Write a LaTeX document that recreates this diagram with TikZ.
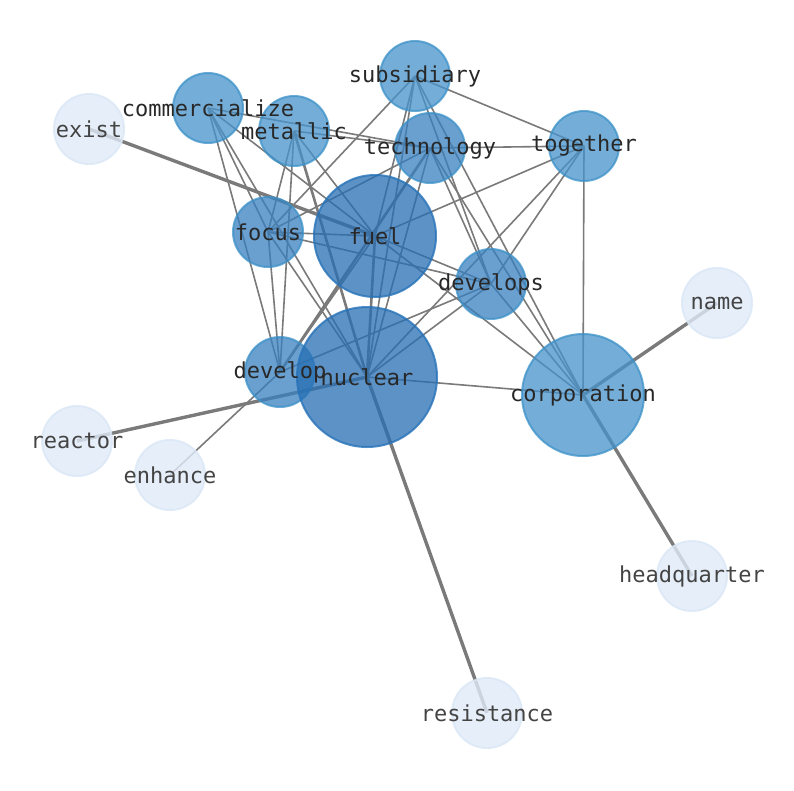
\documentclass[tikz,border=0pt]{standalone}
\usepackage{fontspec}
\newfontfamily\lblfont{DejaVu Sans Mono}
\definecolor{edgegray}{RGB}{122,122,122}
\definecolor{bigfill}{RGB}{38,110,179}
\definecolor{bigline}{RGB}{40,115,185}
\definecolor{midfill}{RGB}{70,147,203}
\definecolor{midfillb}{RGB}{55,128,192}
\definecolor{midline}{RGB}{60,145,200}
\definecolor{lightfill}{RGB}{224,235,248}
\definecolor{lightline}{RGB}{218,231,246}
\definecolor{lbltext}{RGB}{40,40,40}
\definecolor{lbltextlight}{RGB}{68,68,68}
\tikzset{
  thinedge/.style={draw=edgegray, line width=1.6pt},
  midedge/.style={draw=edgegray, line width=2.6pt},
  thickedge/.style={draw=edgegray, line width=3.4pt},
  bignode/.style={circle, inner sep=0pt, fill=bigfill, fill opacity=0.75, draw=bigline, draw opacity=0.8, line width=2pt},
  midnode/.style={circle, inner sep=0pt, minimum size=70pt, fill=midfill, fill opacity=0.75, draw=midline, draw opacity=0.75, line width=2pt},
  midnodeb/.style={midnode, fill=midfillb},
  lightnode/.style={circle, inner sep=0pt, minimum size=70pt, fill=lightfill, fill opacity=0.8, draw=lightline, draw opacity=0.8, line width=2pt},
  lbl/.style={inner sep=0pt, text=lbltext, font=\lblfont\fontsize{22}{26}\selectfont},
  lbllight/.style={lbl, text=lbltextlight}
}
\begin{document}
\begin{tikzpicture}[x=1pt,y=-1pt]
\useasboundingbox (0,0) rectangle (794,790);
% positions
\coordinate (subsidiary) at (415,76);
\coordinate (commercialize) at (208,108);
\coordinate (metallic) at (294,131);
\coordinate (exist) at (89,129);
\coordinate (technology) at (430,148);
\coordinate (together) at (584,146);
\coordinate (focus) at (268,232);
\coordinate (fuel) at (375,236);
\coordinate (develops) at (491,284);
\coordinate (name) at (717,303);
\coordinate (develop) at (280,372);
\coordinate (nuclear) at (367,377);
\coordinate (corporation) at (583,395);
\coordinate (reactor) at (77,441);
\coordinate (enhance) at (170,475);
\coordinate (headquarter) at (692,576);
\coordinate (resistance) at (487,713);
% edges
\draw[thickedge] (exist) -- (fuel);
\draw[thickedge] (reactor) -- (nuclear);
\draw[thickedge] (nuclear) -- (resistance);
\draw[thickedge] (corporation) -- (name);
\draw[thickedge] (corporation) -- (headquarter);
\draw[midedge] (metallic) -- (nuclear);
\draw[midedge] (technology) -- (develop);
\draw[midedge] (fuel) -- (nuclear);
\foreach \a/\b in {subsidiary/together, subsidiary/focus, subsidiary/fuel, subsidiary/nuclear,
  subsidiary/develops, subsidiary/corporation,
  technology/together, technology/commercialize, technology/metallic, technology/focus,
  technology/nuclear, technology/develops, technology/corporation,
  together/fuel, together/nuclear, together/develops, together/corporation,
  commercialize/fuel, commercialize/focus, commercialize/develop, commercialize/nuclear,
  metallic/focus, metallic/develop, metallic/fuel,
  focus/fuel, focus/develops, focus/develop, focus/nuclear,
  fuel/develops, fuel/corporation, fuel/develop,
  develops/nuclear, develops/develop, develops/corporation,
  nuclear/corporation, enhance/develop}
  \draw[thinedge] (\a) -- (\b);
% node circles
\node[lightnode] (nexist) at (exist) {};
\node[lightnode] (nname) at (name) {};
\node[lightnode] (nreactor) at (reactor) {};
\node[lightnode] (nenhance) at (enhance) {};
\node[lightnode] (nheadquarter) at (headquarter) {};
\node[lightnode] (nresistance) at (resistance) {};
\node[midnode] (nsubsidiary) at (subsidiary) {};
\node[midnode] (ncommercialize) at (commercialize) {};
\node[midnode] (nmetallic) at (metallic) {};
\node[midnode] (ntogether) at (together) {};
\node[midnodeb] (ntechnology) at (technology) {};
\node[midnodeb] (nfocus) at (focus) {};
\node[midnodeb] (ndevelops) at (develops) {};
\node[midnodeb] (ndevelop) at (develop) {};
\node[midnode, minimum size=122pt] (ncorporation) at (corporation) {};
\node[bignode, minimum size=122pt] (nfuel) at (fuel) {};
\node[bignode, minimum size=140pt] (nnuclear) at (nuclear) {};
% labels
\node[lbllight] (lexist) at (exist) {exist};
\node[lbllight] (lname) at (name) {name};
\node[lbllight] (lreactor) at (reactor) {reactor};
\node[lbllight] (lenhance) at (enhance) {enhance};
\node[lbllight] (lheadquarter) at (headquarter) {headquarter};
\node[lbllight] (lresistance) at (resistance) {resistance};
\node[lbl] (lsubsidiary) at (subsidiary) {subsidiary};
\node[lbl] (lcommercialize) at (commercialize) {commercialize};
\node[lbl] (lmetallic) at (metallic) {metallic};
\node[lbl] (ltogether) at (together) {together};
\node[lbl] (ltechnology) at (technology) {technology};
\node[lbl] (lfocus) at (focus) {focus};
\node[lbl] (ldevelops) at (develops) {develops};
\node[lbl] (ldevelop) at (develop) {develop};
\node[lbl] (lcorporation) at (corporation) {corporation};
\node[lbl] (lfuel) at (fuel) {fuel};
\node[lbl] (lnuclear) at (nuclear) {nuclear};
\end{tikzpicture}
\end{document}
